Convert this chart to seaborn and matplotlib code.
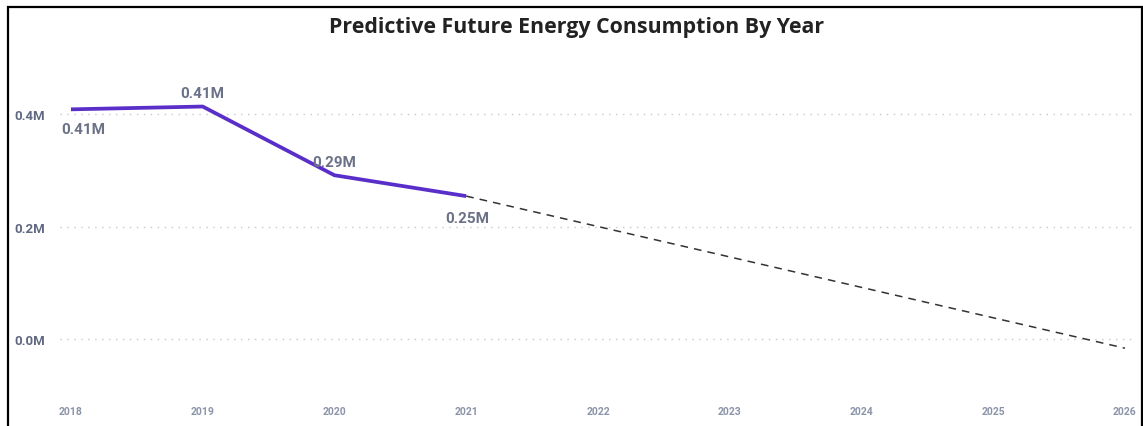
import numpy as np
import pandas as pd
import matplotlib.pyplot as plt
import matplotlib.patches as mpatches
import seaborn as sns

sns.set_theme(style='white')
plt.rcParams['font.family'] = ['Roboto', 'DejaVu Sans']

# actual consumption (millions) and forecast
years = [2018, 2019, 2020, 2021]
consumption = [0.408, 0.413, 0.291, 0.254]
forecast_years = [2021, 2022, 2023, 2024, 2025, 2026]
forecast = [0.254, 0.200, 0.146, 0.092, 0.038, -0.016]
point_labels = ['0.41M', '0.41M', '0.29M', '0.25M']

y_ticks = [0.0, 0.2, 0.4]
y_tick_labels = ['0.0M', '0.2M', '0.4M']
x_ticks = list(range(2018, 2027))

actual_df = pd.DataFrame({'Year': years, 'Consumption': consumption})
forecast_df = pd.DataFrame({'Year': forecast_years, 'Consumption': forecast})

W, H = 1143, 427
fig = plt.figure(figsize=(W / 100, H / 100), dpi=100)
ax = fig.add_axes([60 / W, (H - 395) / H, (1135 - 60) / W, 350 / H])

sns.lineplot(data=forecast_df, x='Year', y='Consumption', ax=ax,
             color='#333333', linewidth=1.1, linestyle=(0, (5, 4)))
sns.lineplot(data=actual_df, x='Year', y='Consumption', ax=ax,
             color='#5a2fc9', linewidth=2.7, solid_capstyle='butt')

# label placement (offset in points, vertical anchor)
label_place = [((9, -9), 'top'), ((0, 5), 'bottom'),
               ((0, 4.5), 'bottom'), ((0.5, -10.5), 'top')]
for yr, val, lab, (offset, va) in zip(years, consumption, point_labels, label_place):
    ax.annotate(lab, (yr, val), xytext=offset, textcoords='offset points',
                ha='center', va=va, fontsize=11, fontweight='bold', color='#6b7287')

ax.set_xlim(2017.917, 2026.076)
ax.set_ylim(-0.0973, 0.524)
ax.set_yticks(y_ticks)
ax.set_yticklabels(y_tick_labels)
ax.set_xticks(x_ticks)
ax.set_xticklabels([str(x) for x in x_ticks])
ax.tick_params(axis='y', labelsize=9.5, colors='#5f6880', length=0, pad=11)
ax.tick_params(axis='x', labelsize=7.5, colors='#8a93a8', length=0, pad=8.5)
for lab in ax.get_yticklabels() + ax.get_xticklabels():
    lab.set_fontweight('bold')

ax.grid(axis='y', color='#c8c8c8', linestyle=(0, (1, 4)), linewidth=1)
ax.grid(axis='x', visible=False)
sns.despine(ax=ax, left=True, bottom=True)
ax.set_xlabel('')
ax.set_ylabel('')

fig.text(577 / W, 1 - 28 / H, 'Predictive Future Energy Consumption By Year',
         ha='center', va='center', fontsize=15.4, fontweight='bold',
         color='#222222', family=['Open Sans', 'DejaVu Sans'])

border = mpatches.Rectangle((8 / W, -0.05), 1134 / W, 1.05 - 8 / H,
                            transform=fig.transFigure, fill=False,
                            edgecolor='black', linewidth=1.6)
fig.patches.append(border)

fig.savefig('out.png', dpi=100)
